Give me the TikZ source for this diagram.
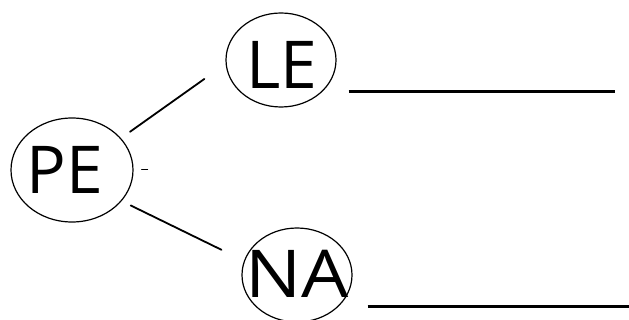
\documentclass[tikz,border=0pt]{standalone}
\usepackage{fontspec}
\setmainfont{Open Sans}
\usetikzlibrary{shapes.geometric,positioning,calc}

\begin{document}
\begin{tikzpicture}[
  x=1pt, y=-1pt, line cap=round,
  bubble/.style={draw, ellipse, line width=1.2pt, inner sep=0pt},
  tag/.style={inner sep=0pt, font=\fontsize{66}{66}\selectfont},
  link/.style={line width=1.8pt},
  blank/.style={line width=3pt, line cap=butt},
]
\useasboundingbox (0,0) rectangle (629,320);
% bubbles
\node[bubble, minimum width=122pt, minimum height=104pt] (pe) at (72,170) {};
\node[bubble, minimum width=110pt, minimum height=94pt] (le) at (281,60) {};
\node[bubble, minimum width=110pt, minimum height=94pt] (na) at (297,275) {};
% letters
\node[tag] (peT) at (65,170) {PE};
\node[tag] (leT) at (282,65) {LE};
\node[tag] (naT) at (297,274) {\scalebox{1.13}[1]{NA}};
% branches
\draw[link, shorten <=11pt, shorten >=26pt] (pe.33) -- (le.184);
\draw[link, shorten <=10pt, shorten >=25pt] (pe.-32) -- (na.165);
\draw[line width=1pt] ([xshift=8pt]pe.east) -- ++(6,0);
% answer lines
\coordinate (leL) at ([xshift=12pt,yshift=-32pt]le.east);
\coordinate (naL) at ([xshift=15pt,yshift=-32pt]na.east);
\draw[blank] (leL) -- ++(266,0);
\draw[blank] (naL) -- ++(264,0);
\end{tikzpicture}
\end{document}
